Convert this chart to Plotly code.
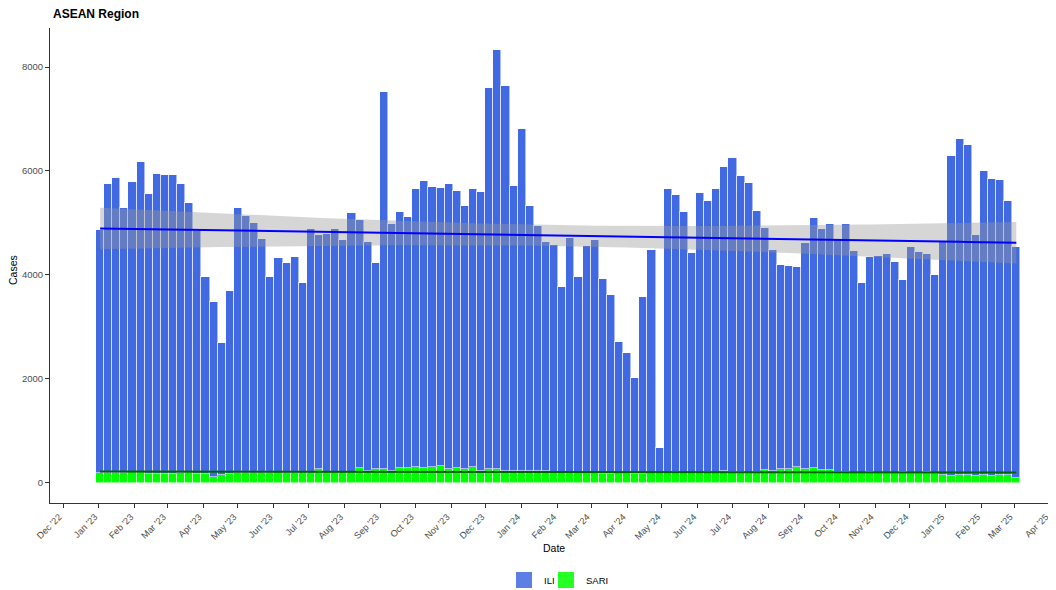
import numpy as np
import pandas as pd
import plotly.graph_objects as go

# ---------------- data ----------------
week_start = "2023-01-02"
n_weeks = 114

# ILI cases per week (stacked on top of SARI)
ili_cases = [
    4665, 5549, 5682, 5082, 5580, 5968, 5373, 5774, 5745, 5754,
    5570, 5166, 4685, 3801, 3372, 2539, 3526, 5105, 4940, 4806,
    4488, 3768, 4128, 4031, 4142, 3638, 4686, 4507, 4580, 4673,
    4468, 4971, 4770, 4398, 3974, 7237, 4744, 4936, 4834, 5346,
    5519, 5391, 5340, 5474, 5327, 5070, 5346, 5366, 7327, 8064,
    7411, 5488, 6589, 5092, 4708, 4406, 4368, 3564, 4518, 3773,
    4360, 4467, 3750, 3457, 2513, 2302, 1846, 3413, 4275, 472,
    5447, 5333, 5007, 4217, 5376, 5221, 5454, 5859, 6039, 5687,
    5576, 5019, 4660, 4257, 3923, 3914, 3846, 4346, 4801, 4635,
    4736, 4474, 4772, 4268, 3648, 4135, 4166, 4204, 4049, 3702,
    4332, 4251, 4199, 3806, 4496, 6147, 6475, 6340, 4629, 5856,
    5710, 5669, 5272, 4442,
]

# SARI cases per week
sari_cases = [
    200, 195, 190, 200, 215, 212, 178, 175, 172, 175,
    186, 212, 165, 167, 109, 147, 173, 190, 195, 200,
    198, 200, 205, 200, 198, 202, 205, 269, 210, 212,
    205, 215, 288, 237, 263, 276, 237, 282, 288, 301,
    282, 301, 333, 276, 282, 263, 314, 237, 276, 263,
    224, 230, 225, 235, 228, 222, 215, 205, 200, 195,
    198, 200, 167, 165, 192, 198, 167, 170, 199, 195,
    200, 205, 198, 200, 195, 202, 200, 224, 205, 210,
    200, 205, 250, 230, 269, 265, 301, 263, 295, 250,
    245, 212, 215, 200, 198, 205, 199, 200, 195, 202,
    200, 198, 205, 200, 154, 141, 145, 160, 140, 150,
    142, 158, 145, 90,
]

y_ticks = [0, 2000, 4000, 6000, 8000]
series_names = ["ILI", "SARI"]

# ---------------- style ----------------
FONT = "Liberation Sans, Arial, Helvetica, sans-serif"
ILI_FILL = "#4169E1"
SARI_FILL = "#00FF00"
ILI_LINE = "#0000FF"
SARI_LINE = "#006400"
BAND = "rgba(153,153,153,0.4)"
T95 = 1.981  # t quantile, df ~ 112

dates = pd.date_range(week_start, periods=n_weeks, freq="7D")
week_ms = 7 * 24 * 3600 * 1000


def lm_band(values):
    x = np.arange(len(values), dtype=float)
    y = np.asarray(values, dtype=float)
    b, a = np.polyfit(x, y, 1)
    fit = a + b * x
    resid = y - fit
    s = np.sqrt(np.sum(resid ** 2) / (len(y) - 2))
    sxx = np.sum((x - x.mean()) ** 2)
    se = s * np.sqrt(1.0 / len(y) + (x - x.mean()) ** 2 / sxx)
    return fit, fit - T95 * se, fit + T95 * se


fig = go.Figure()

# SARI at the bottom of the stack, ILI on top
fig.add_trace(go.Bar(
    x=dates, y=sari_cases, name=series_names[1], width=week_ms,
    marker=dict(color=SARI_FILL, line=dict(color="rgba(255,255,255,0.55)", width=1)),
    showlegend=False,
))
fig.add_trace(go.Bar(
    x=dates, y=ili_cases, name=series_names[0], width=week_ms,
    marker=dict(color=ILI_FILL, line=dict(color="rgba(255,255,255,0.55)", width=1)),
    showlegend=False,
))

for vals, col in [(ili_cases, ILI_LINE), (sari_cases, SARI_LINE)]:
    fit, lo, hi = lm_band(vals)
    fig.add_trace(go.Scatter(
        x=list(dates) + list(dates[::-1]),
        y=list(hi) + list(lo[::-1]),
        fill="toself", fillcolor=BAND, line=dict(width=0),
        mode="lines", showlegend=False, hoverinfo="skip",
    ))
    fig.add_trace(go.Scatter(
        x=dates, y=fit, mode="lines", line=dict(color=col, width=2),
        showlegend=False,
    ))

# legend keys (ggplot-like filled squares), one legend box per series
for name, fill, lg in [(series_names[0], ILI_FILL, "legend"),
                       (series_names[1], SARI_FILL, "legend2")]:
    fig.add_trace(go.Scatter(
        x=[None], y=[None], mode="markers", name=name, legend=lg,
        marker=dict(symbol="square", size=16, color=fill, opacity=0.85,
                    line=dict(width=0)),
    ))

legend_common = dict(
    orientation="h", xref="container", yref="container",
    y=1 - 572 / 582, yanchor="middle", xanchor="left",
    font=dict(family=FONT, size=9.5, color="black"),
    itemwidth=30, itemsizing="trace", bgcolor="rgba(0,0,0,0)",
)

# page has an 8px body margin: figure is 1048x582 placed at (8, 8)
fig.update_layout(
    width=1048, height=582,
    barmode="stack",
    bargap=0,
    plot_bgcolor="white", paper_bgcolor="white",
    margin=dict(l=42, r=0, t=20, b=87, autoexpand=False),
    font=dict(family=FONT, size=10, color="black"),
    title=dict(
        text="<b>ASEAN Region</b>", x=45 / 1048, xanchor="left",
        y=1 - 5.5 / 582, yanchor="middle", yref="container", xref="container",
        font=dict(family=FONT, size=12, color="black"),
    ),
    showlegend=True,
    legend=dict(x=(504 - 8) / 1048, **legend_common),
    legend2=dict(x=(546 - 8) / 1048, **legend_common),
)

fig.update_xaxes(
    type="date",
    range=["2022-11-19 18:00", "2025-04-06 06:00"],
    tick0="2022-12-01", dtick="M1", tickformat="%b '%y",
    tickangle=-45, automargin=False, ticklabelshift=-4,
    ticks="outside", ticklen=4, tickcolor="#333333", tickwidth=1,
    tickfont=dict(family=FONT, size=9.2, color="#4d4d4d"),
    showline=True, linecolor="#333333", linewidth=1,
    showgrid=False, zeroline=False,
)
fig.update_yaxes(
    range=[-385, 8750], automargin=False,
    tickvals=y_ticks, ticktext=[str(v) for v in y_ticks],
    ticks="outside", ticklen=4, tickcolor="#333333", tickwidth=1,
    tickfont=dict(family=FONT, size=9.5, color="#4d4d4d"),
    showline=True, linecolor="#333333", linewidth=1,
    showgrid=False, zeroline=False,
)

fig.add_annotation(text="Date", x=(554 - 50) / 1006, y=(503 - 548) / 475,
                   xref="paper", yref="paper", showarrow=False,
                   font=dict(family=FONT, size=10.5, color="black"),
                   xanchor="center", yanchor="middle")
fig.add_annotation(text="Cases", x=(13 - 50) / 1006, y=(503 - 270) / 475,
                   xref="paper", yref="paper", showarrow=False, textangle=-90,
                   font=dict(family=FONT, size=10.5, color="black"),
                   xanchor="center", yanchor="middle")

fig.write_html("out.html")
